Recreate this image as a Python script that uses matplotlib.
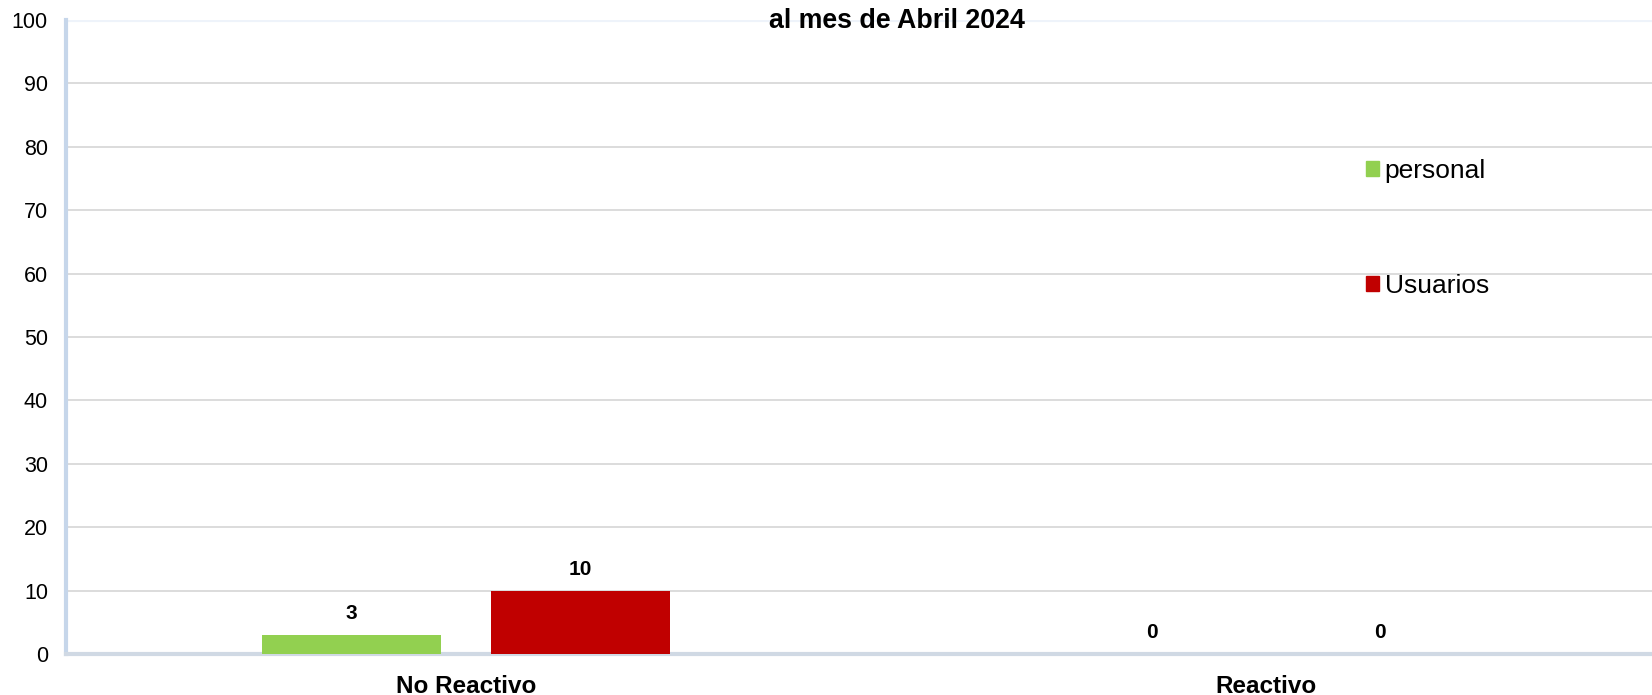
import matplotlib.pyplot as plt
import numpy as np
from matplotlib.patches import Patch

plt.rcParams['font.family'] = ['Liberation Sans', 'DejaVu Sans']

# Datos
categorias = ['No Reactivo', 'Reactivo']
personal = [3, 0]
usuarios = [10, 0]
series = ['personal', 'Usuarios']
colores = ['#92D050', '#C00000']

W, H = 1652, 695
fig = plt.figure(figsize=(W / 100, H / 100), dpi=100)
ax = fig.add_axes([66 / W, 41 / H, (W - 66) / W, 634 / H])

x = np.arange(len(categorias))
ancho = 0.224
off = 0.143
b1 = ax.bar(x - off, personal, ancho, color=colores[0], zorder=3)
b2 = ax.bar(x + off, usuarios, ancho, color=colores[1], zorder=3)

for barras in (b1, b2):
    for b in barras:
        h = b.get_height()
        ax.text(b.get_x() + b.get_width() / 2, h + 3.4, f"{int(h)}",
                ha='center', va='center', fontsize=15, fontweight='bold')

ax.set_xlim(-0.5, (W - 66) / 800 - 0.5)
ax.set_ylim(0, 100)
ax.set_yticks(range(0, 101, 10))
ax.set_xticks(x)
ax.set_xticklabels(categorias, fontsize=17.5, fontweight='bold')
ax.tick_params(axis='x', length=0, pad=15)
ax.tick_params(axis='y', length=0, pad=13, labelsize=15.5)

ax.grid(axis='y', color='#D9D9D9', linewidth=1.3, zorder=0)
ax.set_axisbelow(True)
for s in ('top', 'right'):
    ax.spines[s].set_visible(False)
ax.spines['left'].set_color('#C6D6EA')
ax.spines['left'].set_linewidth(3)
ax.spines['bottom'].set_color('#D0D9E4')
ax.spines['bottom'].set_linewidth(3)
ax.axhline(100, color='#EEF3FA', linewidth=3, zorder=1)

# Titulo (primera linea fuera del recorte)
fig.text(897 / W, 1 - 21 / H, 'al mes de Abril 2024', ha='center', va='center',
         fontsize=19.3, fontweight='bold')

# Leyenda
handles = [Patch(color=c, label=l) for c, l in zip(colores, series)]
fig.legend(handles=handles, loc='upper left', bbox_to_anchor=(1353 / W, 1 - 146 / H),
           frameon=False, fontsize=19, handlelength=0.5, handleheight=0.5,
           handletextpad=0.2, labelspacing=3.45, borderpad=0)

fig.savefig('out.png', dpi=100)
